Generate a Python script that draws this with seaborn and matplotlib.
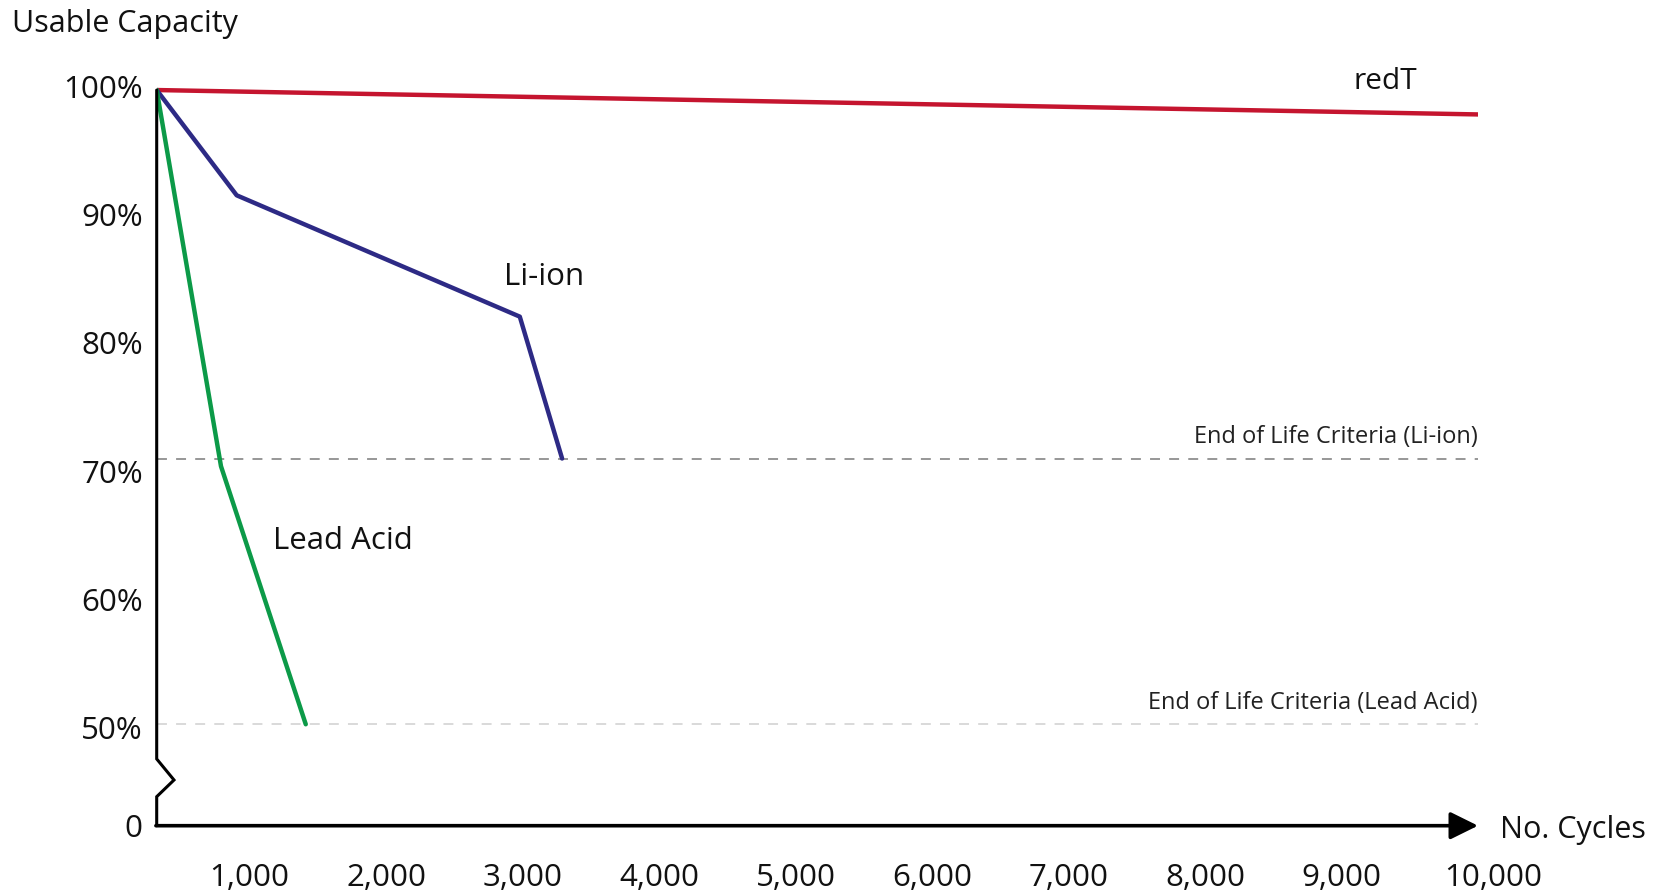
import numpy as np
import pandas as pd
import matplotlib
matplotlib.use("Agg")
import matplotlib.pyplot as plt
import matplotlib.transforms as mtransforms
import seaborn as sns

# data (cycles, usable capacity %)
redt_cycles = [320, 10000]
redt_capacity = [100, 98.1]
liion_cycles = [320, 906, 2980, 3290]
liion_capacity = [100, 91.8, 82.35, 71.3]
lead_cycles = [320, 791, 1412]
lead_capacity = [100, 70.7, 50.6]

eol_liion = 71.3
eol_lead = 50.6

x_ticks = [1000, 2000, 3000, 4000, 5000, 6000, 7000, 8000, 9000, 10000]
x_labels = ["1,000", "2,000", "3,000", "4,000", "5,000", "6,000", "7,000", "8,000", "9,000", "10,000"]
y_ticks = [100, 90, 80, 70, 60, 50]
y_labels = ["100%", "90%", "80%", "70%", "60%", "50%"]

colors = {"redT": "#c5152f", "Li-ion": "#2d2a85", "Lead Acid": "#0c9a48"}

df = pd.concat([
    pd.DataFrame({"cycles": redt_cycles, "capacity": redt_capacity, "battery": "redT"}),
    pd.DataFrame({"cycles": liion_cycles, "capacity": liion_capacity, "battery": "Li-ion"}),
    pd.DataFrame({"cycles": lead_cycles, "capacity": lead_capacity, "battery": "Lead Acid"}),
])

sns.set_style("white")
plt.rcParams["font.family"] = ["Open Sans", "DejaVu Sans"]

W, H = 1661, 891
fig = plt.figure(figsize=(W / 100, H / 100), dpi=100)
ax = fig.add_axes([156.7 / W, 1 - 825.7 / H, (1478 - 156.7) / W, (825.7 - 60) / H])

x_min, x_max = 320, 10000
y_bot, y_top = 42.7, 102.34
ax.set_xlim(x_min, x_max)
ax.set_ylim(y_bot, y_top)

sns.lineplot(data=df, x="cycles", y="capacity", hue="battery", palette=colors,
             estimator=None, sort=False, lw=3.2, legend=False, ax=ax, zorder=3)

# end of life criteria
ax.hlines(eol_liion, x_min, x_max, colors="#7a7a7a", lw=1.1, linestyles=(0, (6.5, 6)), zorder=1)
ax.hlines(eol_lead, x_min, x_max, colors="#cfcfcf", lw=1.1, linestyles=(0, (6.5, 6)), zorder=1)
ax.text(x_max, eol_liion + 1.2, "End of Life Criteria (Li-ion)", ha="right", va="baseline",
        fontsize=17, color="#222222")
ax.text(x_max, eol_lead + 1.2, "End of Life Criteria (Lead Acid)", ha="right", va="baseline",
        fontsize=17, color="#222222")

# series labels
ax.text(9090, 100.1, "redT", fontsize=21.5, va="baseline", color="#111111")
ax.text(2864, 84.8, "Li-ion", fontsize=22.5, va="baseline", color="#111111")
ax.text(1174, 64.25, "Lead Acid", fontsize=22.5, va="baseline", color="#111111")

# axes: custom left spine with break, bottom axis with arrow
for s in ax.spines.values():
    s.set_visible(False)
px_per_cycle = (1478 - 156.7) / (x_max - x_min)
zig = 17.3 / px_per_cycle
ax.plot([x_min, x_min, x_min + zig, x_min, x_min],
        [100, 47.9, 46.26, 44.96, y_bot], color="black", lw=2.2,
        solid_joinstyle="miter", clip_on=False, zorder=4)
ax.annotate("", xy=(x_max, y_bot), xytext=(x_min - 0.8 / px_per_cycle, y_bot),
            arrowprops=dict(arrowstyle="-|>,head_length=0.85,head_width=0.42",
                            mutation_scale=20, lw=2.6, color="black",
                            shrinkA=0, shrinkB=0),
            annotation_clip=False, zorder=4)

ax.set_xticks(x_ticks)
ax.set_xticklabels(x_labels)
ax.set_yticks(y_ticks + [y_bot])
ax.set_yticklabels(y_labels + ["0"])
ax.tick_params(axis="both", length=0, labelsize=22.5, colors="#111111")
ax.tick_params(axis="y", pad=10)
ax.tick_params(axis="x", pad=27)
ax.set_xlabel("")
ax.set_ylabel("")
ax.grid(False)

# nudge tick labels to where they sit in the original
up = mtransforms.ScaledTranslation(0, 4 / 100, fig.dpi_scale_trans)
for lab in ax.get_yticklabels()[:-1]:
    lab.set_transform(lab.get_transform() + up)
right = mtransforms.ScaledTranslation(15 / 100, 0, fig.dpi_scale_trans)
last = ax.get_xticklabels()[-1]
last.set_transform(last.get_transform() + right)

fig.text(11.7 / W, 1 - 31.7 / H, "Usable Capacity", fontsize=22, va="baseline", color="#111111")
fig.text(1500 / W, 1 - 838.3 / H, "No. Cycles", fontsize=22, va="baseline", color="#111111")

fig.savefig("out.png", dpi=100)
